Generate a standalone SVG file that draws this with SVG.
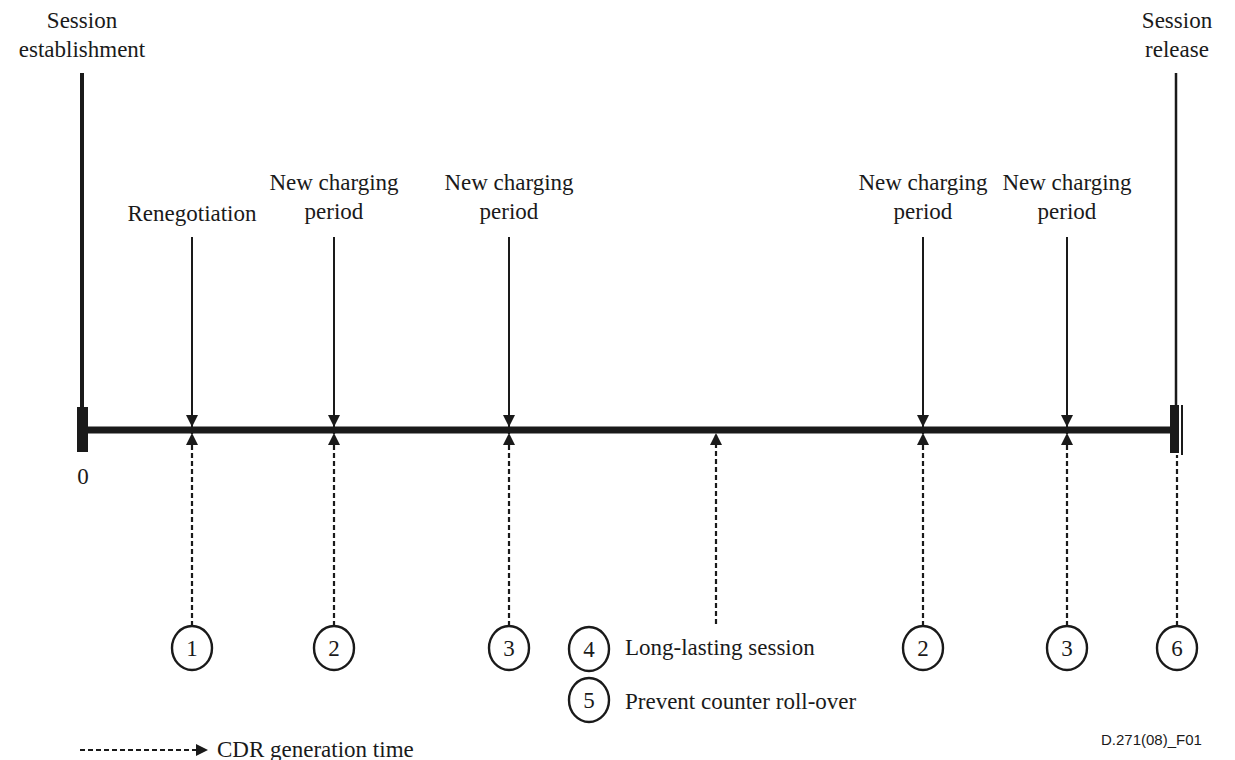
<svg xmlns="http://www.w3.org/2000/svg" width="1235" height="760" viewBox="0 0 1235 760">
<style>
text{font-family:"Liberation Serif","Times New Roman",serif;font-size:23px;fill:#1a1a1a}
.c{text-anchor:middle}
.solid{stroke:#1a1a1a;stroke-width:2;fill:none}
.dash{stroke:#1a1a1a;stroke-width:2.2;stroke-dasharray:5 3;fill:none}
.circ{stroke:#1a1a1a;stroke-width:2.4;fill:#fff}
.code{font-family:"Liberation Sans",Arial,sans-serif;font-size:15px}
</style>
<defs>
<marker id="ah" viewBox="0 0 10 10" refX="10" refY="5" markerWidth="12" markerHeight="12" markerUnits="userSpaceOnUse" orient="auto">
<path d="M0,0 L10,5 L0,10 z" fill="#1a1a1a"/>
</marker>
</defs>
<g id="timeline">
<line x1="82" y1="73" x2="82" y2="410" stroke="#1a1a1a" stroke-width="4"/>
<rect x="77" y="407" width="11" height="45" fill="#1a1a1a"/>
<line x1="86" y1="430" x2="1171" y2="430" stroke="#1a1a1a" stroke-width="7"/>
<line x1="1176" y1="73" x2="1176" y2="410" stroke="#1a1a1a" stroke-width="2.5"/>
<rect x="1170" y="405" width="9" height="48" fill="#1a1a1a"/>
<line x1="1182" y1="405" x2="1182" y2="455" stroke="#1a1a1a" stroke-width="2"/>
<text x="83" y="484" class="c">0</text>
</g>
<g id="session-establishment">
<text x="82" y="28" class="c">Session</text>
<text x="82" y="57" class="c">establishment</text>
</g>
<g id="session-release">
<text x="1177" y="28" class="c">Session</text>
<text x="1177" y="57" class="c">release</text>
</g>
<g id="renegotiation">
<text x="192" y="221" class="c">Renegotiation</text>
</g>
<g id="ncp1">
<text x="334" y="190" class="c">New charging</text>
<text x="334" y="219" class="c">period</text>
</g>
<g id="ncp2">
<text x="509" y="190" class="c">New charging</text>
<text x="509" y="219" class="c">period</text>
</g>
<g id="ncp3">
<text x="923" y="190" class="c">New charging</text>
<text x="923" y="219" class="c">period</text>
</g>
<g id="ncp4">
<text x="1067" y="190" class="c">New charging</text>
<text x="1067" y="219" class="c">period</text>
</g>
<g id="connectors">
<line class="solid" x1="192" y1="237" x2="192" y2="427" marker-end="url(#ah)"/>
<line class="solid" x1="334" y1="237" x2="334" y2="427" marker-end="url(#ah)"/>
<line class="solid" x1="509" y1="237" x2="509" y2="427" marker-end="url(#ah)"/>
<line class="solid" x1="923" y1="237" x2="923" y2="427" marker-end="url(#ah)"/>
<line class="solid" x1="1067" y1="237" x2="1067" y2="427" marker-end="url(#ah)"/>
<line class="dash" x1="192" y1="626" x2="192" y2="433" marker-end="url(#ah)"/>
<line class="dash" x1="334" y1="626" x2="334" y2="433" marker-end="url(#ah)"/>
<line class="dash" x1="509" y1="626" x2="509" y2="433" marker-end="url(#ah)"/>
<line class="dash" x1="716" y1="624" x2="716" y2="433" marker-end="url(#ah)"/>
<line class="dash" x1="923" y1="626" x2="923" y2="433" marker-end="url(#ah)"/>
<line class="dash" x1="1067" y1="626" x2="1067" y2="433" marker-end="url(#ah)"/>
<line class="dash" x1="1177" y1="626" x2="1177" y2="455"/>
</g>
<g id="c1"><ellipse class="circ" cx="192" cy="648" rx="20" ry="22"/><text x="192" y="656" class="c">1</text></g>
<g id="c2a"><ellipse class="circ" cx="334" cy="648" rx="20" ry="22"/><text x="334" y="656" class="c">2</text></g>
<g id="c3a"><ellipse class="circ" cx="509" cy="648" rx="20" ry="22"/><text x="509" y="656" class="c">3</text></g>
<g id="c4"><ellipse class="circ" cx="589" cy="649" rx="20" ry="22"/><text x="589" y="657" class="c">4</text><text x="625" y="655">Long-lasting session</text></g>
<g id="c5"><ellipse class="circ" cx="589" cy="700" rx="20" ry="22"/><text x="589" y="708" class="c">5</text><text x="625" y="709">Prevent counter roll-over</text></g>
<g id="c2b"><ellipse class="circ" cx="923" cy="648" rx="20" ry="22"/><text x="923" y="656" class="c">2</text></g>
<g id="c3b"><ellipse class="circ" cx="1067" cy="648" rx="20" ry="22"/><text x="1067" y="656" class="c">3</text></g>
<g id="c6"><ellipse class="circ" cx="1177" cy="648" rx="20" ry="22"/><text x="1177" y="656" class="c">6</text></g>
<g id="legend">
<line class="dash" x1="80" y1="750" x2="208" y2="750" marker-end="url(#ah)"/>
<text x="217" y="757">CDR generation time</text>
</g>
<g id="figure-code">
<text x="1101" y="745" class="code">D.271(08)_F01</text>
</g>
</svg>
